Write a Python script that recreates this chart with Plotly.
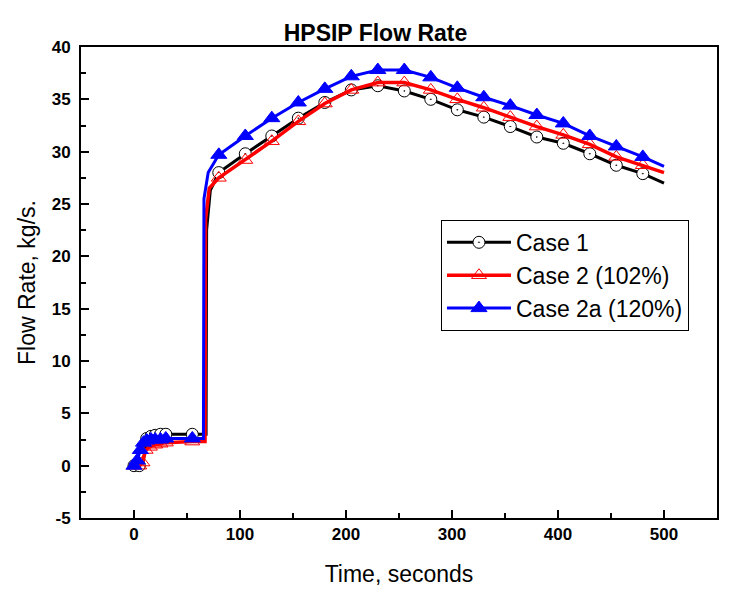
import plotly.graph_objects as go

# ---- data ----
t_case1 = [0, 5, 8, 12, 16, 20, 25, 30, 55, 68, 68.5, 72, 80, 105, 130, 155, 180, 205, 230, 255, 280, 305, 330, 355, 380, 405, 430, 455, 480, 500]
y_case1 = [0, 0, 0, 2.6, 2.8, 2.9, 3.0, 3.0, 3.0, 3.0, 22.5, 26.3, 28.0, 29.8, 31.5, 33.2, 34.7, 35.9, 36.3, 35.8, 35.0, 34.0, 33.3, 32.4, 31.4, 30.8, 29.8, 28.7, 27.9, 27.0]
m_case1 = [0, 5, 12, 16, 20, 25, 30, 55, 80, 105, 130, 155, 180, 205, 230, 255, 280, 305, 330, 355, 380, 405, 430, 455, 480]

t_case2 = [0, 5, 8, 11, 15, 20, 25, 30, 55, 67, 67.5, 71, 80, 105, 130, 155, 180, 205, 230, 255, 280, 305, 330, 355, 380, 405, 430, 455, 480, 500]
y_case2 = [0, 0, 0.3, 1.5, 1.8, 2.0, 2.1, 2.2, 2.3, 2.3, 23.5, 26.5, 27.5, 29.2, 31.0, 32.9, 34.6, 35.9, 36.6, 36.6, 35.9, 35.0, 34.2, 33.3, 32.4, 31.6, 30.7, 29.5, 28.7, 28.0]
m_case2 = [0, 5, 8, 11, 15, 20, 25, 30, 55, 80, 105, 130, 155, 180, 205, 230, 255, 280, 305, 330, 355, 380, 405, 430, 455, 480]

t_case2a = [0, 3, 6, 9, 12, 16, 20, 25, 30, 55, 65.5, 66, 70, 80, 105, 130, 155, 180, 205, 230, 255, 280, 305, 330, 355, 380, 405, 430, 455, 480, 500]
y_case2a = [0, 0.5, 1.5, 2.2, 2.4, 2.5, 2.5, 2.5, 2.6, 2.6, 2.6, 25.5, 28.0, 29.7, 31.5, 33.2, 34.7, 36.0, 37.2, 37.8, 37.8, 37.1, 36.1, 35.2, 34.4, 33.5, 32.7, 31.5, 30.5, 29.5, 28.6]
m_case2a = [0, 3, 6, 9, 12, 16, 20, 25, 30, 55, 80, 105, 130, 155, 180, 205, 230, 255, 280, 305, 330, 355, 380, 405, 430, 455, 480]

x_ticks = [0, 100, 200, 300, 400, 500]
x_tick_labels = ["0", "100", "200", "300", "400", "500"]
y_ticks = [-5, 0, 5, 10, 15, 20, 25, 30, 35, 40]
y_tick_labels = ["-5", "0", "5", "10", "15", "20", "25", "30", "35", "40"]

FONT = "Liberation Sans, Arial, sans-serif"

series = [
    ("Case 1", t_case1, y_case1, m_case1, "#000000",
     dict(symbol="circle-dot", size=12, color="white", line=dict(color="black", width=1)), 3),
    ("Case 2 (102%)", t_case2, y_case2, m_case2, "#ff0000",
     dict(symbol="triangle-up-open", size=13, color="#ff0000", line=dict(color="#ff0000", width=1)), 3.5),
    ("Case 2a (120%)", t_case2a, y_case2a, m_case2a, "#0000ff",
     dict(symbol="triangle-up", size=14, color="#0000ff", line=dict(color="#0000ff", width=1)), 3),
]

fig = go.Figure()
for name, t, y, mk, col, mstyle, lw in series:
    fig.add_trace(go.Scatter(x=t, y=y, mode="lines", line=dict(color=col, width=lw),
                             showlegend=False, hoverinfo="skip"))
    mx = [ti for ti in t if ti in mk]
    my = [yi for ti, yi in zip(t, y) if ti in mk]
    fig.add_trace(go.Scatter(x=mx, y=my, mode="markers", marker=mstyle, showlegend=False))
    fig.add_trace(go.Scatter(x=[None], y=[None], mode="lines+markers", name=name,
                             line=dict(color=col, width=lw), marker=mstyle))

axis_common = dict(
    showgrid=False, zeroline=False, showline=True, linecolor="black", linewidth=2,
    mirror=True, ticks="inside", ticklen=8, tickwidth=2, tickcolor="black",
    tickfont=dict(family=FONT, size=17, color="black", weight="bold"),
)

fig.update_xaxes(range=[-50, 550], tickvals=x_ticks, ticktext=x_tick_labels,
                 minor=dict(ticks="inside", ticklen=5, tickwidth=2, tickcolor="black", dtick=50, tick0=0),
                 title=dict(text="Time, seconds", font=dict(family=FONT, size=23, color="black"), standoff=22),
                 **axis_common)
fig.update_yaxes(range=[-5, 40], tickvals=y_ticks, ticktext=y_tick_labels, ticklabelstandoff=5,
                 minor=dict(ticks="inside", ticklen=5, tickwidth=2, tickcolor="black", dtick=2.5, tick0=0),
                 title=dict(text="Flow Rate, kg/s.", font=dict(family=FONT, size=23, color="black"), standoff=10),
                 **axis_common)

fig.update_layout(
    width=735, height=591,
    margin=dict(l=73, r=26, t=39, b=81),
    paper_bgcolor="white", plot_bgcolor="white",
    title=dict(text="<b>HPSIP Flow Rate</b>", x=0.5, xanchor="center", y=0.958, yanchor="middle",
               font=dict(family=FONT, size=23, color="black")),
    legend=dict(x=0.566, y=0.633, xanchor="left", yanchor="top",
                bgcolor="white", bordercolor="black", borderwidth=1,
                font=dict(family=FONT, size=23, color="black"),
                itemwidth=64, tracegroupgap=0),
    showlegend=True,
)

fig.write_html("out.html")
